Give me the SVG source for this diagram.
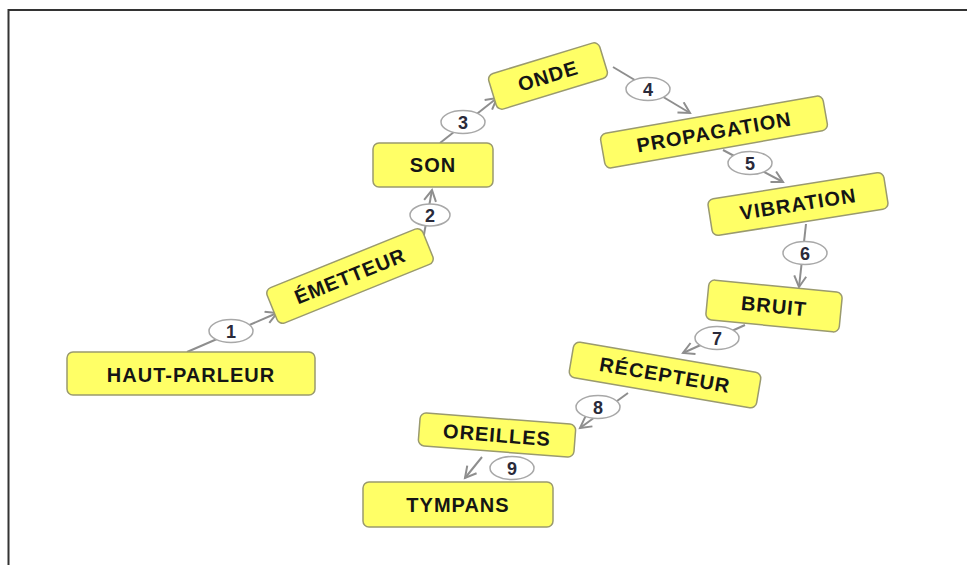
<svg xmlns="http://www.w3.org/2000/svg" width="967" height="565" viewBox="0 0 967 565">
<defs>
<style>
.box{fill:#ffff66;stroke:#9a9a6e;stroke-width:1.5}
.lbl{font-family:"Liberation Sans",Arial,sans-serif;font-weight:bold;font-size:20px;letter-spacing:1px;fill:#151515;text-anchor:middle}
.con{stroke:#8e8e8e;stroke-width:2;fill:none;marker-end:url(#arr)}
.num{fill:#ffffff;stroke:#a8a8a8;stroke-width:1.5}
.nt{font-family:"Liberation Sans",Arial,sans-serif;font-weight:bold;font-size:18px;fill:#2a2a3a;text-anchor:middle}
</style>
<marker id="arr" markerUnits="userSpaceOnUse" markerWidth="16" markerHeight="16" refX="12" refY="7" orient="auto">
<path d="M1,1 L12,7 L1,13" fill="none" stroke="#8e8e8e" stroke-width="2"/>
</marker>
</defs>
<rect width="967" height="565" fill="#ffffff"/>
<path d="M8.5,565 L8.5,10 L967,10" fill="none" stroke="#333333" stroke-width="2"/>

<g id="connectors">
<line class="con" x1="187" y1="352" x2="277" y2="313"/>
<line class="con" x1="423" y1="240" x2="432" y2="190"/>
<line class="con" x1="440" y1="143" x2="497" y2="98"/>
<line class="con" x1="613" y1="67" x2="690" y2="113"/>
<line class="con" x1="723" y1="150" x2="783" y2="182"/>
<line class="con" x1="806" y1="224" x2="799" y2="287"/>
<line class="con" x1="745" y1="325" x2="683" y2="353"/>
<line class="con" x1="628" y1="393" x2="580" y2="428"/>
<line class="con" x1="482" y1="457" x2="465" y2="478"/>
<ellipse class="num" cx="231" cy="331" rx="22" ry="11.5"/><text class="nt" x="231" y="337.5">1</text>
<ellipse class="num" cx="430" cy="215" rx="20" ry="11"/><text class="nt" x="430" y="221.5">2</text>
<ellipse class="num" cx="463" cy="122" rx="22" ry="11.5"/><text class="nt" x="463" y="128.5">3</text>
<ellipse class="num" cx="648" cy="89" rx="22" ry="11.5"/><text class="nt" x="648" y="95.5">4</text>
<ellipse class="num" cx="750" cy="163" rx="22" ry="11.5"/><text class="nt" x="750" y="169.5">5</text>
<ellipse class="num" cx="805" cy="253" rx="22" ry="11.5"/><text class="nt" x="805" y="259.5">6</text>
<ellipse class="num" cx="717" cy="338" rx="22" ry="11.5"/><text class="nt" x="717" y="344.5">7</text>
<ellipse class="num" cx="598" cy="407" rx="22" ry="11.5"/><text class="nt" x="598" y="413.5">8</text>
<ellipse class="num" cx="512" cy="468" rx="22" ry="11.5"/><text class="nt" x="512" y="474.5">9</text>
</g>

<g id="haut-parleur">
<rect class="box" x="67" y="352" width="248" height="43" rx="6"/>
<text class="lbl" x="191" y="382">HAUT-PARLEUR</text>
</g>
<g id="emetteur" transform="translate(350,276) rotate(-22)">
<rect class="box" x="-84" y="-19" width="168" height="38" rx="6"/>
<text class="lbl" x="0" y="7">ÉMETTEUR</text>
</g>
<g id="son">
<rect class="box" x="373" y="143" width="120" height="44" rx="6"/>
<text class="lbl" x="433" y="172">SON</text>
</g>
<g id="onde" transform="translate(548,76) rotate(-17)">
<rect class="box" x="-58" y="-18.5" width="116" height="37" rx="6"/>
<text class="lbl" x="0" y="7">ONDE</text>
</g>
<g id="propagation" transform="translate(714,132) rotate(-10)">
<rect class="box" x="-113" y="-17.5" width="226" height="35" rx="6"/>
<text class="lbl" x="0" y="7">PROPAGATION</text>
</g>
<g id="vibration" transform="translate(798,204) rotate(-9)">
<rect class="box" x="-89" y="-18.5" width="178" height="37" rx="6"/>
<text class="lbl" x="0" y="7">VIBRATION</text>
</g>
<g id="bruit" transform="translate(774,306) rotate(5.6)">
<rect class="box" x="-67" y="-20" width="134" height="40" rx="6"/>
<text class="lbl" x="0" y="7">BRUIT</text>
</g>
<g id="recepteur" transform="translate(665,375) rotate(9.7)">
<rect class="box" x="-95" y="-18" width="190" height="36" rx="6"/>
<text class="lbl" x="0" y="7">RÉCEPTEUR</text>
</g>
<g id="oreilles" transform="translate(497,435) rotate(4.4)">
<rect class="box" x="-78" y="-16.5" width="156" height="33" rx="6"/>
<text class="lbl" x="0" y="7">OREILLES</text>
</g>
<g id="tympans">
<rect class="box" x="363" y="482" width="190" height="45" rx="6"/>
<text class="lbl" x="458" y="512">TYMPANS</text>
</g>
</svg>
